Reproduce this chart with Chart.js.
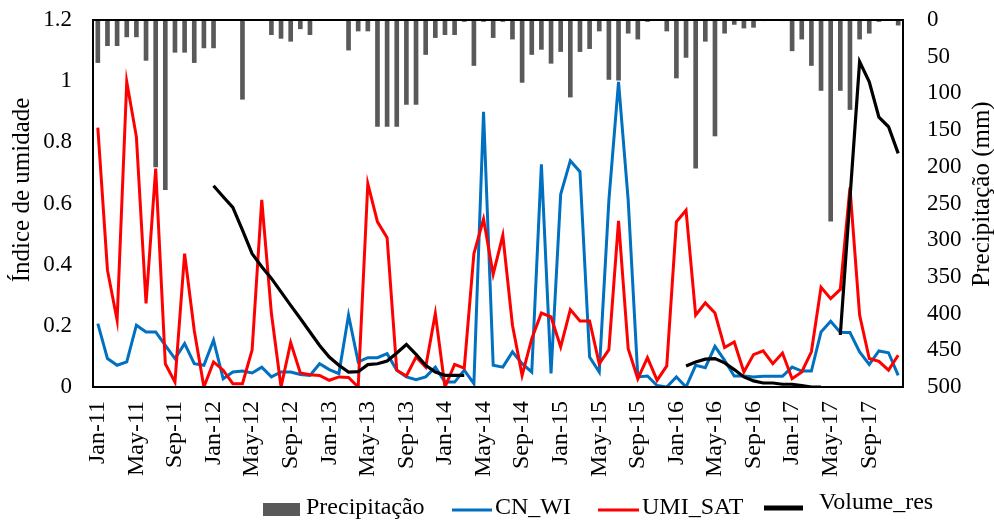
<!DOCTYPE html>
<html>
<head>
<meta charset="utf-8">
<script src="https://cdn.jsdelivr.net/npm/chart.js@4.4.1/dist/chart.umd.min.js"></script>
<style>
html,body{margin:0;padding:0;background:#fff;}
#wrap{width:994px;height:523px;position:relative;}
</style>
</head>
<body>
<div id="wrap"><canvas id="c" width="994" height="523"></canvas></div>
<script>
const monthNames = ['Jan','Feb','Mar','Apr','May','Jun','Jul','Aug','Sep','Oct','Nov','Dec'];
const years = ['11','12','13','14','15','16','17'];
const categories = [];
years.forEach(y => monthNames.forEach(m => categories.push(m + '-' + y)));

const precipitacao = [
  58,35,35,23,23,55,200,231,44,44,58,38,
  38,0,0,108,0,0,20,25,29,12,20,0,
  0,0,41,15,15,145,145,145,115,115,47,24,
  20,20,2,62,2,24,2,26,85,47,40,59,
  43,105,43,39,15,81,82,18,26,2,0,15,
  79,51,202,29,158,18,6,11,10,1,0,1,
  42,26,62,96,274,96,122,26,18,2,0,7
];
const cnWi = [
  0.207,0.093,0.071,0.082,0.202,0.18,0.18,0.136,0.093,0.142,0.076,0.071,
  0.153,0.027,0.049,0.052,0.046,0.065,0.033,0.049,0.049,0.041,0.038,0.076,
  0.057,0.044,0.235,0.082,0.096,0.096,0.109,0.055,0.033,0.024,0.033,0.065,
  0.016,0.016,0.055,0.011,0.9,0.071,0.065,0.115,0.076,0.049,0.728,0.044,
  0.63,0.74,0.704,0.098,0.049,0.611,0.998,0.611,0.033,0.036,0.005,0,
  0.033,0,0.071,0.063,0.133,0.087,0.036,0.036,0.033,0.035,0.035,0.035,
  0.065,0.052,0.052,0.18,0.215,0.178,0.178,0.115,0.074,0.118,0.112,0.038
];
const umiSat = [
  0.848,0.382,0.218,0.998,0.818,0.273,0.714,0.076,0.016,0.436,0.185,0,
  0.082,0.055,0.011,0.011,0.121,0.612,0.241,0,0.145,0.046,0.04,0.038,
  0.022,0.033,0.031,0,0.665,0.54,0.488,0.055,0.036,0.098,0.065,0.24,
  0,0.074,0.062,0.436,0.549,0.369,0.496,0.202,0.038,0.158,0.242,0.229,
  0.131,0.253,0.216,0.216,0.076,0.122,0.543,0.125,0.027,0.096,0.022,0.069,
  0.54,0.578,0.235,0.275,0.242,0.129,0.147,0.049,0.106,0.118,0.076,0.111,
  0.027,0.049,0.115,0.326,0.289,0.319,0.652,0.235,0.093,0.084,0.055,0.104
];
const volumeRes = [
  null,null,null,null,null,null,null,null,null,null,null,null,
  0.658,0.622,0.587,0.513,0.436,0.393,0.355,0.311,0.267,0.224,0.18,0.136,
  0.098,0.071,0.049,0.05,0.073,0.076,0.085,0.111,0.139,0.107,0.071,0.049,
  0.038,0.038,0.038,null,null,null,null,null,null,null,null,null,
  null,null,null,null,null,null,null,null,null,null,null,null,
  null,0.069,0.082,0.091,0.093,0.079,0.057,0.033,0.02,0.013,0.013,0.009,
  0.009,0.005,0,0,null,0.17,0.617,1.064,0.998,0.882,0.851,0.764
];
const leftTicks = [0,0.2,0.4,0.6,0.8,1,1.2];
const rightTicks = [0,50,100,150,200,250,300,350,400,450,500];

const SERIF = '"Liberation Serif","Times New Roman",serif';

const framePlugin = {
  id: 'frameAndText',
  afterDraw(chart) {
    const ctx = chart.ctx;
    const a = chart.chartArea;
    ctx.save();
    ctx.strokeStyle = '#000';
    ctx.lineWidth = 2;
    ctx.strokeRect(a.left, a.top, a.right - a.left, a.bottom - a.top);
    // axis titles
    ctx.fillStyle = '#000';
    ctx.font = '25px ' + SERIF;
    ctx.textAlign = 'center';
    ctx.textBaseline = 'middle';
    ctx.save();
    ctx.translate(22, 190);
    ctx.rotate(-Math.PI / 2);
    ctx.fillText('Índice de umidade', 0, 0);
    ctx.restore();
    ctx.save();
    ctx.translate(982, 194);
    ctx.rotate(-Math.PI / 2);
    ctx.fillText('Precipitação (mm)', 0, 0);
    ctx.restore();
    // legend
    const ds = chart.data.datasets;
    ctx.font = '24px ' + SERIF;
    ctx.textAlign = 'left';
    ctx.textBaseline = 'alphabetic';
    const items = [
      {i: 3, type: 'rect', x0: 263, x1: 300, tx: 306, ty: 514, lw: 0, ly: 0},
      {i: 2, type: 'line', x0: 452, x1: 492, tx: 495, ty: 514, lw: 3, ly: 510},
      {i: 1, type: 'line', x0: 598, x1: 639, tx: 642, ty: 514, lw: 3, ly: 510},
      {i: 0, type: 'line', x0: 764, x1: 803, tx: 819, ty: 509, lw: 5, ly: 508}
    ];
    items.forEach(it => {
      const d = ds[it.i];
      if (it.type === 'rect') {
        ctx.fillStyle = d.backgroundColor;
        ctx.fillRect(it.x0, 503, it.x1 - it.x0, 13);
      } else {
        ctx.strokeStyle = d.borderColor;
        ctx.lineWidth = it.lw;
        ctx.beginPath();
        ctx.moveTo(it.x0, it.ly);
        ctx.lineTo(it.x1, it.ly);
        ctx.stroke();
      }
      ctx.fillStyle = '#000';
      ctx.fillText(d.label, it.tx, it.ty);
    });
    ctx.restore();
  }
};

new Chart(document.getElementById('c'), {
  data: {
    labels: categories,
    datasets: [
      {type: 'line', label: 'Volume_res', data: volumeRes, yAxisID: 'y', borderColor: '#000000', backgroundColor: '#000000', borderWidth: 3.2, pointRadius: 0, spanGaps: false, order: 0, tension: 0},
      {type: 'line', label: 'UMI_SAT', data: umiSat, yAxisID: 'y', borderColor: '#FF0000', backgroundColor: '#FF0000', borderWidth: 3, pointRadius: 0, order: 1, tension: 0},
      {type: 'line', label: 'CN_WI', data: cnWi, yAxisID: 'y', borderColor: '#0070C0', backgroundColor: '#0070C0', borderWidth: 3, pointRadius: 0, order: 2, tension: 0},
      {type: 'bar', label: 'Precipitação', data: precipitacao, yAxisID: 'y2', backgroundColor: '#595959', borderWidth: 0, barThickness: 4, order: 3}
    ]
  },
  options: {
    responsive: false,
    animation: false,
    devicePixelRatio: 1,
    layout: {padding: {top: 20, left: 0, right: 0, bottom: 0}},
    plugins: {legend: {display: false}, tooltip: {enabled: false}},
    scales: {
      x: {
        type: 'category',
        offset: true,
        grid: {display: false, drawTicks: false},
        border: {display: false},
        afterFit: s => { s.height = 136; s.paddingLeft = 0; s.paddingRight = 0; },
        ticks: {
          autoSkip: false, maxRotation: 90, minRotation: 90, padding: 14,
          color: '#000', font: {family: SERIF, size: 24},
          callback: function(v, i) { return i % 4 === 0 ? categories[i] : ''; }
        }
      },
      y: {
        position: 'left', min: 0, max: 1.2,
        grid: {display: false, drawTicks: false},
        border: {display: false},
        afterFit: s => { s.width = 93; s.paddingTop = 0; s.paddingBottom = 0; },
        afterBuildTicks: s => { s.ticks = leftTicks.map(v => ({value: v})); },
        ticks: {padding: 21, color: '#000', font: {family: SERIF, size: 23},
          callback: v => String(Math.round(v * 10) / 10)}
      },
      y2: {
        position: 'right', min: 0, max: 500, reverse: true,
        grid: {display: false, drawTicks: false},
        border: {display: false},
        afterFit: s => { s.width = 91; s.paddingTop = 0; s.paddingBottom = 0; },
        afterBuildTicks: s => { s.ticks = rightTicks.map(v => ({value: v})); },
        ticks: {padding: 24, color: '#000', font: {family: SERIF, size: 23}}
      }
    }
  },
  plugins: [framePlugin]
});
</script>
</body>
</html>
